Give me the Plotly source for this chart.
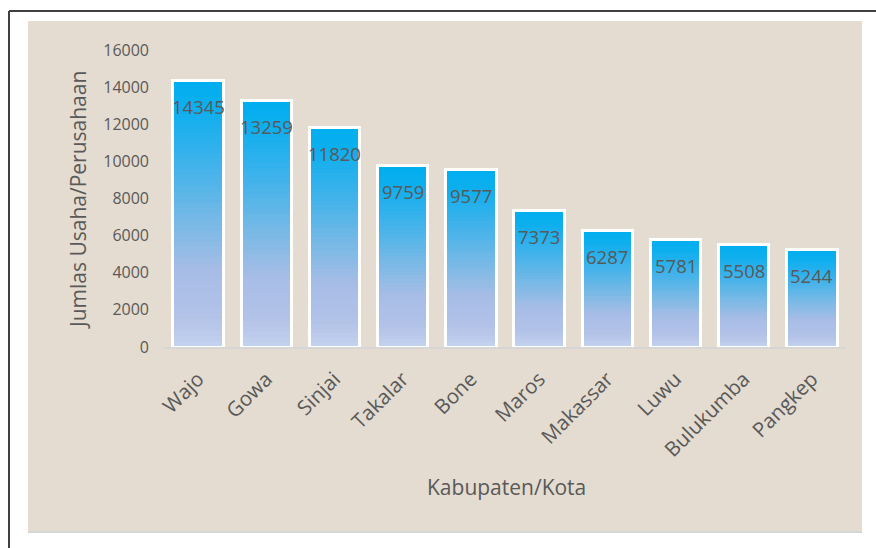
import plotly.graph_objects as go

categories = ["Wajo", "Gowa", "Sinjai", "Takalar", "Bone", "Maros", "Makassar", "Luwu", "Bulukumba", "Pangkep"]
values = [14345, 13259, 11820, 9759, 9577, 7373, 6287, 5781, 5508, 5244]
y_ticks = [0, 2000, 4000, 6000, 8000, 10000, 12000, 14000, 16000]
y_ticktext = ["0", "2000", "4000", "6000", "8000", "10000", "12000", "14000", "16000"]
y_title = "Jumlas Usaha/Perusahaan"
x_title = "Kabupaten/Kota"

W_FIG, H_FIG = 876, 548
L, R, T, B = 164, 30, 50, 201
PW, PH = W_FIG - L - R, H_FIG - T - B

def px_x(px):
    return (px - L) / PW

def px_y(py):
    return (H_FIG - B - py) / PH

# gradient stops (fraction from bottom, rgb)
stops = [
    (0.00, (196, 210, 237)),
    (0.12, (178, 194, 232)),
    (0.28, (168, 189, 230)),
    (0.50, (112, 184, 230)),
    (0.70, (60, 178, 235)),
    (0.88, (16, 175, 238)),
    (1.00, (0, 174, 239)),
]

def grad(f):
    for (f0, c0), (f1, c1) in zip(stops[:-1], stops[1:]):
        if f0 <= f <= f1:
            t = (f - f0) / (f1 - f0) if f1 > f0 else 0
            c = [round(a + (b - a) * t) for a, b in zip(c0, c1)]
            return "rgb(%d,%d,%d)" % tuple(c)
    return "rgb(%d,%d,%d)" % stops[-1][1]

N = 48
fig = go.Figure()
for k in range(N):
    fig.add_trace(go.Bar(
        x=categories, y=[v / N for v in values],
        marker=dict(color=grad((k + 0.5) / N), line=dict(width=0)),
        hoverinfo="skip", showlegend=False, xaxis="x", yaxis="y",
    ))

fig.add_trace(go.Bar(
    x=categories, y=values,
    marker=dict(color="rgba(0,0,0,0)", line=dict(color="white", width=3)),
    hoverinfo="skip", showlegend=False, xaxis="x2", yaxis="y",
))

FONT = "Open Sans"
GRAY = "#595959"

for c, v in zip(categories, values):
    fig.add_annotation(x=c, y=v, xref="x", yref="y", text=str(v), showarrow=False,
                       yshift=-26, yanchor="middle",
                       font=dict(family=FONT, size=18.5, color=GRAY))

fig.add_annotation(x=px_x(506), y=px_y(487), xref="paper", yref="paper", text=x_title,
                   showarrow=False, xanchor="center", yanchor="middle",
                   font=dict(family=FONT, size=21, color=GRAY))
fig.add_annotation(x=px_x(78), y=px_y(200), xref="paper", yref="paper", text=y_title,
                   showarrow=False, textangle=-90, xanchor="center", yanchor="middle",
                   font=dict(family=FONT, size=21, color=GRAY))

shapes = [
    dict(type="rect", xref="paper", yref="paper", x0=px_x(28), x1=px_x(862), y0=px_y(532), y1=px_y(21),
         fillcolor="#E4DCD0", line=dict(width=0), layer="below"),
    dict(type="line", xref="paper", yref="paper", x0=px_x(28), x1=px_x(862), y0=px_y(532), y1=px_y(532),
         line=dict(color="#D6D6D6", width=2), layer="below"),
    dict(type="line", xref="paper", yref="paper", x0=px_x(9), x1=px_x(877), y0=px_y(11), y1=px_y(11),
         line=dict(color="#404040", width=2), layer="below"),
    dict(type="line", xref="paper", yref="paper", x0=px_x(9), x1=px_x(9), y0=px_y(11), y1=px_y(549),
         line=dict(color="#404040", width=2), layer="below"),
]

fig.update_layout(
    width=W_FIG, height=H_FIG,
    margin=dict(l=L, r=R, t=T, b=B, autoexpand=False),
    paper_bgcolor="white", plot_bgcolor="rgba(0,0,0,0)",
    barmode="stack", bargap=0.26,
    shapes=shapes,
    xaxis=dict(tickangle=-45, tickfont=dict(family=FONT, size=20.5, color=GRAY),
               showline=True, linecolor="#D6D6D6", linewidth=2, showgrid=False,
               ticks="", ticklabelstandoff=10, automargin=False),
    xaxis2=dict(overlaying="x", matches="x", visible=False),
    yaxis=dict(range=[0, 16000], tickvals=y_ticks, ticktext=y_ticktext, showgrid=False, zeroline=False,
               tickfont=dict(family=FONT, size=16, color=GRAY), ticks="",
               ticklabelstandoff=14, automargin=False),
    font=dict(family=FONT, color=GRAY),
)

fig.write_html("out.html")
